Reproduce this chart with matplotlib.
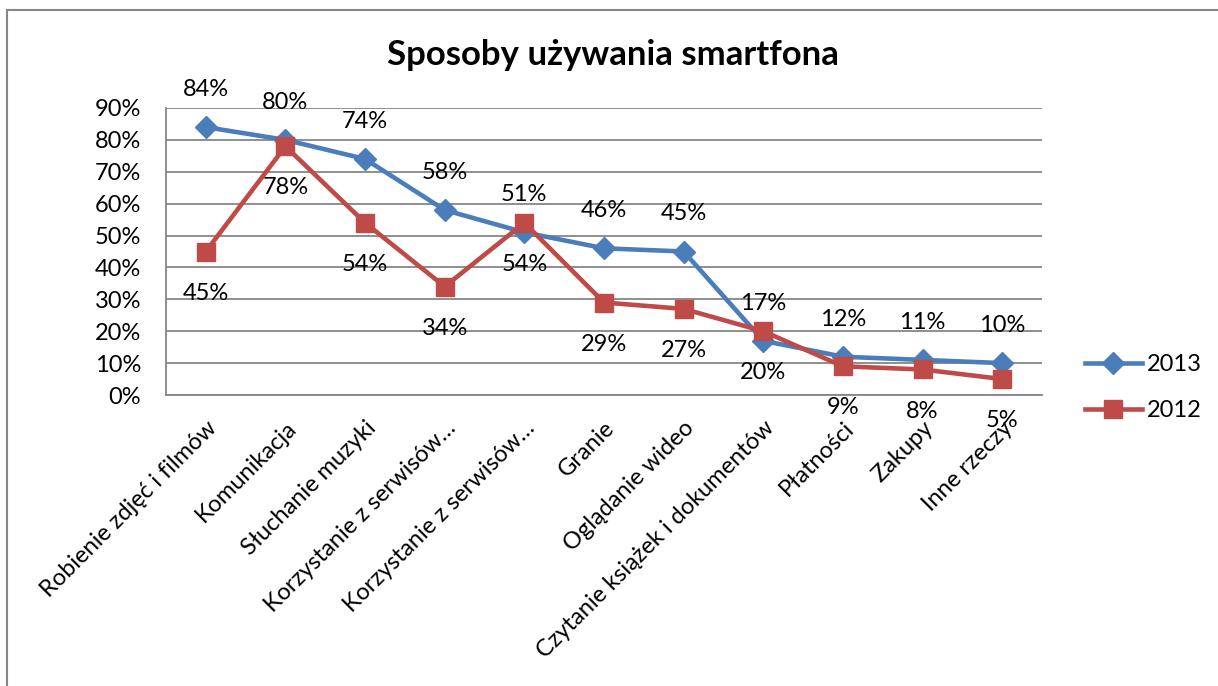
import matplotlib.pyplot as plt
from matplotlib.patches import Rectangle

plt.rcParams['font.family'] = ['Lato', 'DejaVu Sans']

kategorie = ['Robienie zdjęć i filmów', 'Komunikacja', 'Słuchanie muzyki',
             'Korzystanie z serwisów…', 'Korzystanie z serwisów…', 'Granie',
             'Oglądanie wideo', 'Czytanie książek i dokumentów', 'Płatności',
             'Zakupy', 'Inne rzeczy']
wartosci_2013 = [84, 80, 74, 58, 51, 46, 45, 17, 12, 11, 10]
wartosci_2012 = [45, 78, 54, 34, 54, 29, 27, 20, 9, 8, 5]
y_ticki = [0, 10, 20, 30, 40, 50, 60, 70, 80, 90]

niebieski = '#4A7EBB'
czerwony = '#BE4B48'
szary = '#868686'
rozmiar = 17

fig = plt.figure(figsize=(12.18, 6.86), dpi=100)
ax = fig.add_axes([166 / 1218, 1 - 395 / 686, 876 / 1218, 287 / 686])

x = list(range(len(kategorie)))
ax.plot(x, wartosci_2013, color=niebieski, lw=3.3, marker='D', ms=11,
        label='2013', zorder=3)
ax.plot(x, wartosci_2012, color=czerwony, lw=3.3, marker='s', ms=13,
        label='2012', zorder=4)

for xi, v in zip(x, wartosci_2013):
    ax.annotate(f'{v}%', (xi, v), xytext=(0, 27), textcoords='offset points',
                ha='center', va='center', fontsize=rozmiar, annotation_clip=False)
for xi, v in zip(x, wartosci_2012):
    ax.annotate(f'{v}%', (xi, v), xytext=(0, -30), textcoords='offset points',
                ha='center', va='center', fontsize=rozmiar, annotation_clip=False)

ax.set_xlim(-0.5, len(kategorie) - 0.5)
ax.set_ylim(0, 90)
ax.set_yticks(y_ticki)
ax.set_yticklabels([f'{t}%' for t in y_ticki], fontsize=rozmiar)
ax.set_xticks(x)
ax.set_xticklabels(kategorie, rotation=45, ha='right', rotation_mode='anchor',
                   fontsize=rozmiar)
ax.tick_params(axis='x', length=0, pad=16)
ax.tick_params(axis='y', length=0, pad=18)
ax.grid(axis='y', color=szary, lw=1.3)
ax.set_axisbelow(True)
for s in ['top', 'right']:
    ax.spines[s].set_visible(False)
for s in ['left', 'bottom']:
    ax.spines[s].set_color(szary)
    ax.spines[s].set_linewidth(1.3)

fig.text(613 / 1218, 1 - 55 / 686, 'Sposoby używania smartfona', ha='center',
         va='center', fontsize=25, fontweight='bold')

ax.legend(loc='center left', bbox_to_anchor=(1.025, -0.19, 0.2, 0.43),
          frameon=False, fontsize=rozmiar, handlelength=2.4, labelspacing=1.05,
          handletextpad=0.2)

fig.add_artist(Rectangle((7 / 1218, -0.1), 1.2, 1 - 10 / 686 + 0.1,
                         transform=fig.transFigure, fill=False,
                         edgecolor=szary, lw=1.5))

fig.savefig('out.png', dpi=100)
